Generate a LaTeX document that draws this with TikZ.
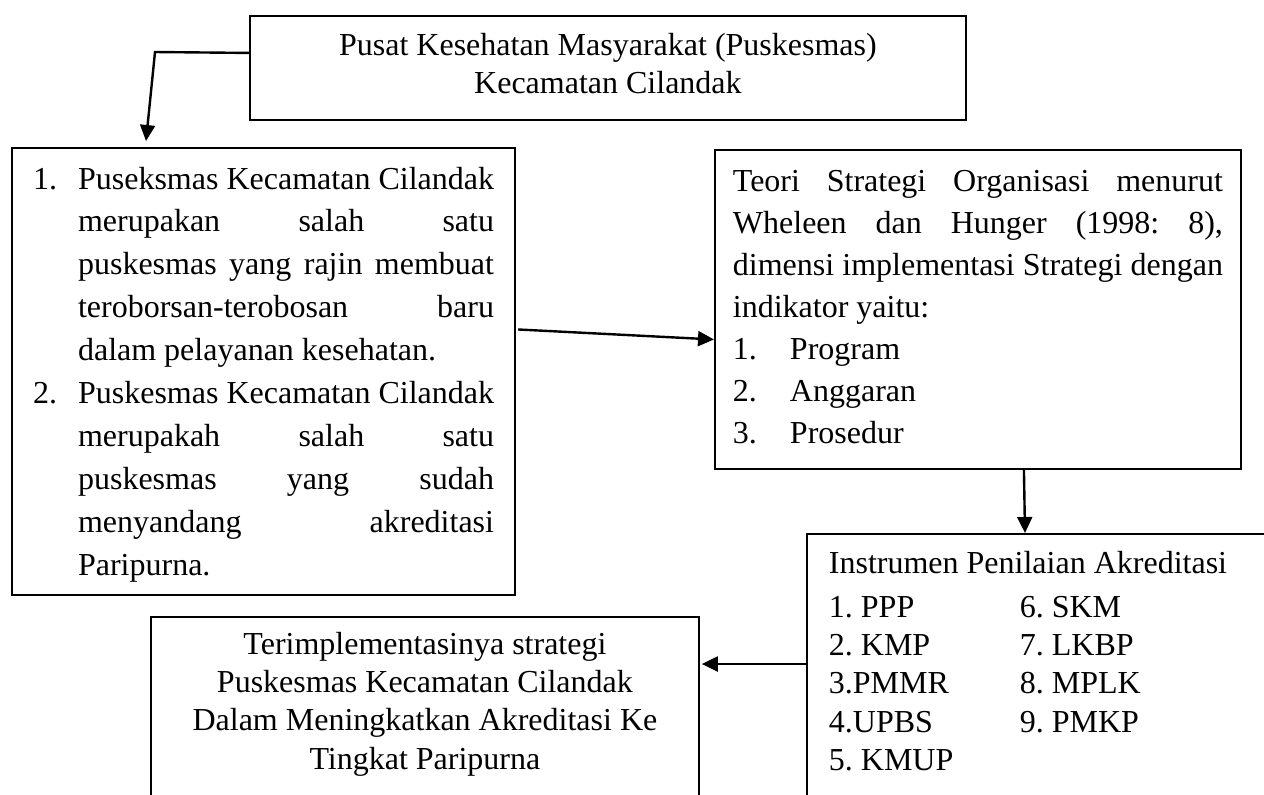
\documentclass[tikz,border=0pt]{standalone}
\usepackage{fontspec}
\setmainfont{Liberation Serif}
\frenchspacing
\usetikzlibrary{arrows.meta}
\tikzset{
  kotak/.style={draw, line width=0.7pt, anchor=north west, inner ysep=0pt},
  panah/.style={-{Triangle[length=6pt,width=5.6pt]}, line width=0.9pt}
}
\begin{document}
\begin{tikzpicture}[x=0.375pt,y=-0.375pt]
\useasboundingbox (0,0) rectangle (1264,794);
\clip (0,0) rectangle (1264,794);
\node[kotak, inner xsep=0pt, text width=268.5pt, align=flush center, text height=15pt, text depth=24pt,
      font=\fontsize{12pt}{14pt}\selectfont] (pusat) at (249,15)
      {Pusat Kesehatan Masyarakat (Puskesmas)\\Kecamatan Cilandak};
\node[kotak, inner xsep=7.9pt, text width=172.9pt, align=flush left, text height=15.4pt, text depth=152.25pt,
      font=\fontsize{12pt}{16.1pt}\selectfont] (alasan) at (11,147)
      {\makebox[16.9pt][l]{1.}\makebox[156pt][s]{Puseksmas Kecamatan Cilandak}\\
       \hspace*{16.9pt}\makebox[156pt][s]{merupakan salah satu}\\
       \hspace*{16.9pt}\makebox[156pt][s]{puskesmas yang rajin membuat}\\
       \hspace*{16.9pt}\makebox[156pt][s]{teroborsan-terobosan baru}\\
       \hspace*{16.9pt}dalam pelayanan kesehatan.\\
       \makebox[16.9pt][l]{2.}\makebox[156pt][s]{Puskesmas Kecamatan Cilandak}\\
       \hspace*{16.9pt}\makebox[156pt][s]{merupakah salah satu}\\
       \hspace*{16.9pt}\makebox[156pt][s]{puskesmas yang sudah}\\
       \hspace*{16.9pt}\makebox[156pt][s]{menyandang akreditasi}\\
       \hspace*{16.9pt}Paripurna.};
\node[kotak, inner xsep=6.75pt, text width=183.75pt, align=flush left, text height=15.4pt, text depth=104.25pt,
      font=\fontsize{12pt}{15.8pt}\selectfont] (teori) at (714,149)
      {\makebox[183.75pt][s]{Teori Strategi Organisasi menurut}\\
       \makebox[183.75pt][s]{Wheleen dan Hunger (1998: 8),}\\
       \makebox[183.75pt][s]{dimensi implementasi Strategi dengan}\\
       indikator yaitu:\\
       \makebox[21.4pt][l]{1.}Program\\
       \makebox[21.4pt][l]{2.}Anggaran\\
       \makebox[21.4pt][l]{3.}Prosedur};
\node[kotak, inner xsep=8.25pt, text width=165pt, align=flush left, text height=15pt, text depth=112.5pt,
      font=\fontsize{12pt}{14.4pt}\selectfont] (instrumen) at (806,533)
      {Instrumen Penilaian Akreditasi\\[1.8pt]
       \makebox[71.6pt][l]{1. PPP}6. SKM\\
       \makebox[71.6pt][l]{2. KMP}7. LKBP\\
       \makebox[71.6pt][l]{3.PMMR}8. MPLK\\
       \makebox[71.6pt][l]{4.UPBS}9. PMKP\\
       5. KMUP};
\node[kotak, inner xsep=0pt, text width=205.5pt, align=flush center, text height=13.9pt, text depth=75pt,
      font=\fontsize{12pt}{14.4pt}\selectfont] (hasil) at (150,616)
      {Terimplementasinya strategi\\
       Puskesmas Kecamatan Cilandak\\
       Dalam Meningkatkan Akreditasi Ke\\
       Tingkat Paripurna};
\draw[panah] ([shift={(0,-15)}]pusat.west) -- (155,52) -- ([shift={(135,-6)}]alasan.north west);
\draw[panah] ([shift={(2,-42)}]alasan.east) -- ([shift={(0,30)}]teori.west);
\draw[panah] ([shift={(46,0)}]teori.south) -- ([shift={(219,0)}]instrumen.north west);
\draw[panah] ([shift={(0,131)}]instrumen.north west) -- ([shift={(2,48)}]hasil.north east);
\end{tikzpicture}
\end{document}
